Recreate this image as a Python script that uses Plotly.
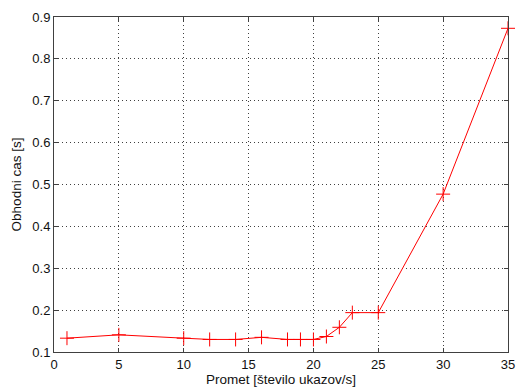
import plotly.graph_objects as go

promet = [1, 5, 10, 12, 14, 16, 18, 19, 20, 21, 22, 23, 25, 30, 35]
cas = [0.133, 0.141, 0.133, 0.130, 0.130, 0.135, 0.130, 0.130, 0.130, 0.137, 0.159, 0.194, 0.194, 0.477, 0.873]

x_ticks = [0, 5, 10, 15, 20, 25, 30, 35]
y_ticks = [0.1, 0.2, 0.3, 0.4, 0.5, 0.6, 0.7, 0.8, 0.9]

fig = go.Figure()
fig.add_trace(go.Scatter(
    x=promet, y=cas, mode="lines+markers",
    line=dict(color="#ff0000", width=1),
    marker=dict(symbol="cross-thin-open", size=10, line=dict(color="#ff0000", width=1)),
    showlegend=False, cliponaxis=False,
))

axis_common = dict(
    showline=True, linecolor="#404040", linewidth=1, mirror="ticks",
    ticks="inside", ticklen=4, tickcolor="#404040",
    showgrid=True, gridcolor="#404040", griddash="1px,3px", gridwidth=1,
    zeroline=False, automargin=False,
    tickfont=dict(family="Liberation Sans, Arial", size=13, color="#111111"),
)

fig.update_layout(
    width=516, height=389,
    margin=dict(l=54, r=8, t=17, b=37),
    paper_bgcolor="white", plot_bgcolor="white",
    font=dict(family="Liberation Sans, Arial", size=13, color="#111111"),
    xaxis=dict(range=[0, 35], tickvals=x_ticks, ticktext=[str(v) for v in x_ticks],
               title=dict(text="Promet [število ukazov/s]", standoff=3,
                          font=dict(size=13.5)), **axis_common),
    yaxis=dict(range=[0.1, 0.9], tickvals=y_ticks, ticktext=[f"{v:.1f}" for v in y_ticks],
               title=dict(text="Obhodni cas [s]", standoff=7, font=dict(size=13.5)),
               **axis_common),
)

fig.write_html("out.html", config={"displayModeBar": False},
               post_script="document.body.style.margin='0';document.body.style.overflow='hidden';")
